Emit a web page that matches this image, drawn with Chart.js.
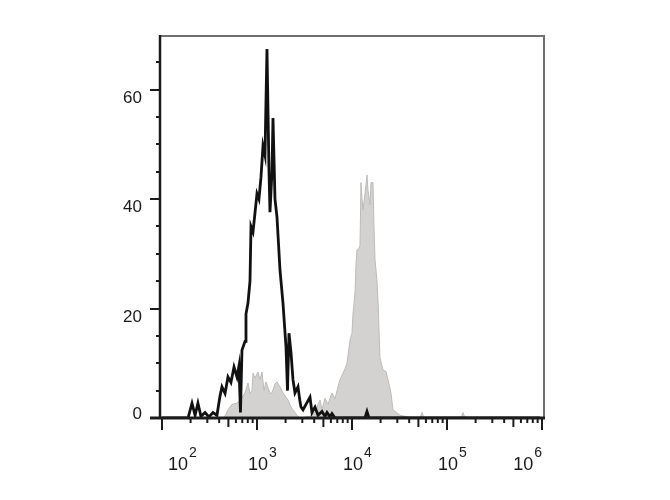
<!DOCTYPE html>
<html>
<head>
<meta charset="utf-8">
<script src="https://cdn.jsdelivr.net/npm/chart.js@4/dist/chart.umd.min.js"></script>
<style>
  html, body { margin: 0; padding: 0; background: #ffffff; }
  canvas { display: block; }
</style>
</head>
<body>
<canvas id="c" width="670" height="500"></canvas>
<script>
// ---- data ----
const blackX = [100,188,207,223,239,257,284,312,344,379,408,428,461,495,532,573,616,646,670,695,748,766,804,844,865,908,953,1000,1049,1102,1157,1214,1274,1338,1370,1438,1474,1547,1624,1747,1878,2020,2095,2172,2280,2393,2512,2701,2836,2905,3050,3280,3613,3793,4079,4387,4834,5197,5456,5867,6158,6623,13700,14384,15098,953000];
const blackY = [0,0,2.7,0.5,2.7,0.3,1,0.2,1,0.5,4,5.7,4.5,7.5,6.5,9.3,7.5,9.5,1,12.4,14,19,21,25,35,34,37.5,41,40,44,49.7,48,67.4,45,37.6,45,54.8,40,36.7,27,21,13,5,15.5,12,7,4.6,5.7,3,2,1.5,2.5,3.8,1,2,0.5,1.2,0.3,1,0.2,0.8,0,0,1.2,0,0];

const grayX = [450,495,546,616,679,748,804,844,886,908,953,1024,1075,1129,1185,1244,1306,1370,1438,1547,1624,1747,1878,2020,2121,2280,2393,2637,2836,3613,4079,4605,4834,5197,5590,6158,6623,6952,7475,8039,8439,8859,9526,10000,10245,10755,11019,11290,11850,12141,12438,12743,13056,13700,14384,14737,15470,15849,16636,17044,17462,18330,18780,19711,21210,22800,23930,25730,27010,29770,32000,36130,40790,51970,54560,57280,140400,147400,154700,953000];
const grayY = [0,1.5,2.5,2.7,3.5,4.6,6.4,4.5,5,8.2,7.3,8.4,7,8.4,5,6.6,5.5,4.5,4.6,6.2,6.6,5.7,4.6,3.8,3.3,2,1.5,0.5,0,0.3,1,3.3,1.5,3.6,2.5,4.6,3.5,5,7,8.2,9,10,14.2,15.5,19,22.8,28,30.7,31,31.5,43,40,38,41,44.4,41.6,39,43,43,35,29,25,21.5,11,8.8,8.5,7,4.6,1.5,0.9,0.5,0.3,0,0,1,0,0,1,0,0];

const yTickValues = [0, 20, 40, 60];
const yTickLabels = ['0', '20', '40', '60'];
const yMinorStep = 5;
const xTickExponents = [2, 3, 4, 5, 6];
const xTickBase = '10';

const xMin = 95.3, xMax = 1.05e6;
const yMin = 0, yMax = 69.8;

const toPoints = (xs, ys) => xs.map((x, i) => ({ x: x, y: ys[i] }));

const axesPlugin = {
  id: 'flowAxes',
  afterDraw(chart) {
    const ctx = chart.ctx;
    const ca = chart.chartArea;
    const xs = chart.scales.x;
    const ys = chart.scales.y;
    ctx.save();
    // top and right frame (gray)
    ctx.strokeStyle = '#707070';
    ctx.lineWidth = 2;
    ctx.beginPath();
    ctx.moveTo(ca.left - 1, ca.top);
    ctx.lineTo(ca.right, ca.top);
    ctx.lineTo(ca.right, ca.bottom);
    ctx.stroke();
    // left axis
    ctx.strokeStyle = '#1c1c1c';
    ctx.lineWidth = 2.5;
    ctx.beginPath();
    ctx.moveTo(ca.left, ca.top - 1);
    ctx.lineTo(ca.left, ca.bottom);
    ctx.stroke();
    // y ticks
    ctx.lineWidth = 2;
    for (let v = yMin; v <= yMax; v += yMinorStep) {
      const py = Math.round(ys.getPixelForValue(v));
      const major = yTickValues.includes(v);
      ctx.beginPath();
      ctx.moveTo(ca.left - (major ? 10 : 4), py);
      ctx.lineTo(ca.left, py);
      ctx.stroke();
    }
    // bottom axis
    ctx.lineWidth = 3;
    ctx.beginPath();
    ctx.moveTo(ca.left - 10, ca.bottom);
    ctx.lineTo(ca.right + 1, ca.bottom);
    ctx.stroke();
    // x ticks
    ctx.lineWidth = 2;
    for (let i = 0; i < xTickExponents.length; i++) {
      const e = xTickExponents[i];
      const pMaj = xs.getPixelForValue(Math.pow(10, e));
      ctx.beginPath();
      ctx.moveTo(pMaj, ca.bottom);
      ctx.lineTo(pMaj, ca.bottom + 12);
      ctx.stroke();
      if (i < xTickExponents.length - 1) {
        for (let m = 2; m <= 9; m++) {
          const p = xs.getPixelForValue(m * Math.pow(10, e));
          ctx.beginPath();
          ctx.moveTo(p, ca.bottom);
          ctx.lineTo(p, ca.bottom + (m === 5 ? 9 : 5));
          ctx.stroke();
        }
      }
    }
    // y labels
    ctx.fillStyle = '#1a1a1a';
    ctx.font = '17px "Liberation Sans", Arial, sans-serif';
    ctx.textAlign = 'right';
    ctx.textBaseline = 'alphabetic';
    yTickValues.forEach((v, i) => {
      const py = ys.getPixelForValue(v);
      const base = Math.min(py + 13, ca.bottom + 1);
      ctx.fillText(yTickLabels[i], ca.left - 18, base);
    });
    // x labels with superscript exponents
    ctx.textAlign = 'left';
    xTickExponents.forEach((e) => {
      const px = xs.getPixelForValue(Math.pow(10, e));
      ctx.font = '18px "Liberation Sans", Arial, sans-serif';
      const wBase = ctx.measureText(xTickBase).width;
      ctx.font = '14px "Liberation Sans", Arial, sans-serif';
      const wExp = ctx.measureText(String(e)).width;
      const total = wBase + 1 + wExp;
      let sx = px - 9;
      if (sx < ca.left + 8) sx = ca.left + 8;
      if (sx + total > ca.right - 2) sx = ca.right - 2 - total;
      ctx.font = '18px "Liberation Sans", Arial, sans-serif';
      ctx.fillText(xTickBase, sx, ca.bottom + 52);
      ctx.font = '14px "Liberation Sans", Arial, sans-serif';
      ctx.fillText(String(e), sx + wBase + 1, ca.bottom + 39);
    });
    ctx.restore();
  }
};

new Chart(document.getElementById('c'), {
  type: 'line',
  data: {
    datasets: [
      {
        label: 'control',
        data: toPoints(blackX, blackY),
        borderColor: '#111111',
        borderWidth: 2.8,
        pointRadius: 0,
        tension: 0,
        fill: false,
        order: 0
      },
      {
        label: 'stained',
        data: toPoints(grayX, grayY),
        borderColor: '#bcbbba',
        backgroundColor: '#d4d2d0',
        borderWidth: 1,
        pointRadius: 0,
        tension: 0,
        fill: 'origin',
        order: 1
      }
    ]
  },
  options: {
    responsive: false,
    animation: false,
    devicePixelRatio: 1,
    layout: { padding: { left: 160, top: 36, right: 126, bottom: 82 } },
    plugins: { legend: { display: false }, tooltip: { enabled: false } },
    scales: {
      x: { type: 'logarithmic', min: xMin, max: xMax, display: false },
      y: { type: 'linear', min: yMin, max: yMax, display: false }
    }
  },
  plugins: [axesPlugin]
});
</script>
</body>
</html>
